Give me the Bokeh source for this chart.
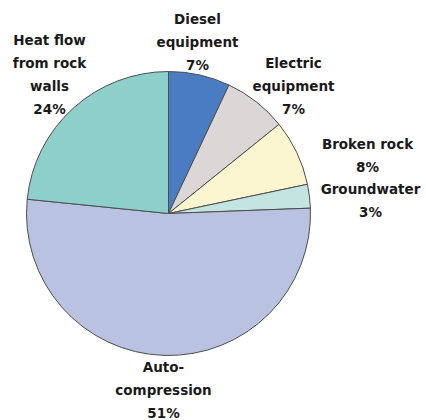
import numpy as np
from bokeh.plotting import figure
from bokeh.models import ColumnDataSource, Range1d
from bokeh.core.properties import value
from bokeh.embed import file_html
from bokeh.resources import INLINE

# ---- data ----
categories = ["Diesel equipment", "Electric equipment", "Broken rock",
              "Groundwater", "Auto-compression", "Heat flow from rock walls"]
shares = [7.0, 7.2, 7.5, 2.7, 52.2, 23.4]          # share of the pie
pct_labels = ["7%", "7%", "8%", "3%", "51%", "24%"]
label_lines = [["Diesel", "equipment"], ["Electric", "equipment"], ["Broken rock"],
               ["Groundwater"], ["Auto-", "compression"], ["Heat flow", "from rock", "walls"]]
colors = ["#4a7cc3", "#dbd7d7", "#fbf5d0", "#c3e4e0", "#b9c2e0", "#8dcfcb"]

# ---- layout ----
W, H = 426, 420
CX, CY, R = 168, H - 213, 142
label_anchor = [(197, 18), (293, 62), (367, 143), (370, 188), (163, 366), (49, 39)]
LINE = 23.3

vals = np.array(shares, dtype=float)
frac = vals / vals.sum()
cum = np.concatenate([[0], np.cumsum(frac)])
start = np.pi / 2 - cum[1:] * 2 * np.pi
end = np.pi / 2 - cum[:-1] * 2 * np.pi

src = ColumnDataSource(dict(cat=categories, start=start, end=end, color=colors,
                            x=[CX] * len(categories), y=[CY] * len(categories)))

p = figure(width=W, height=H, output_backend="svg", toolbar_location=None,
           x_range=Range1d(0, W), y_range=Range1d(0, H), min_border=0)
p.axis.visible = False
p.grid.visible = False
p.outline_line_color = None
p.background_fill_color = "white"

p.wedge(x="x", y="y", radius=R, radius_units="screen", start_angle="start", end_angle="end",
        fill_color="color", line_color="#4d4d4d", line_width=1, source=src)

tx, ty, tt = [], [], []
for (ax, ay), lines, pct in zip(label_anchor, label_lines, pct_labels):
    for i, t in enumerate(lines + [pct]):
        tx.append(ax)
        ty.append(H - (ay + i * LINE))
        tt.append(t)

p.text(x=tx, y=ty, text=tt, text_font=value("DejaVu Sans"), text_font_style="bold",
       text_font_size="13.5px", text_color="#1a1a1a", text_align="center",
       text_baseline="middle")

open("out.html", "w").write(file_html(p, INLINE))
